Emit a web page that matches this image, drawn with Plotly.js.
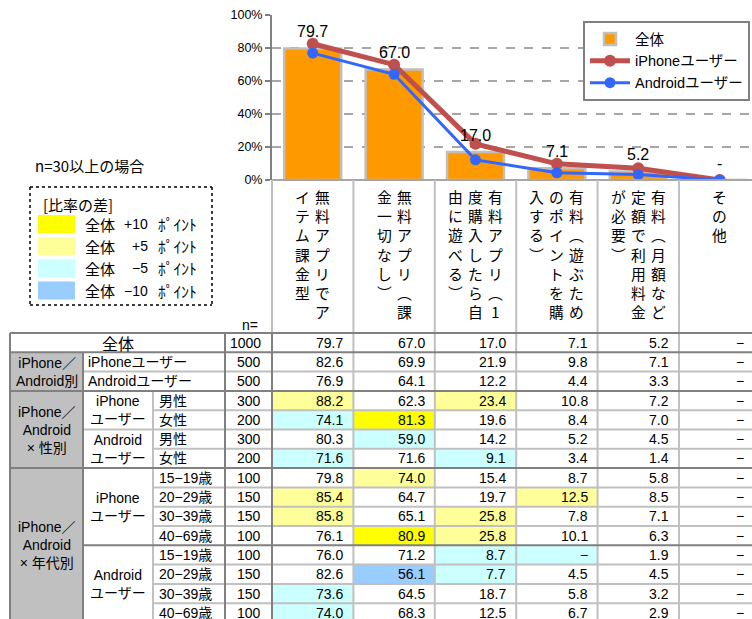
<!DOCTYPE html>
<html><head><meta charset="utf-8">
<script src="https://cdn.plot.ly/plotly-3.0.1.min.js"></script>
<style>html,body{margin:0;padding:0;background:#fff}#chart{width:752px;height:619px}</style>
</head><body><div id="chart"></div>
<script>
// ---------- DATA ----------
const categories = ['無料アプリでアイテム課金型','無料アプリ（課金一切なし）','有料アプリ（1度購入したら自由に遊べる）','有料（遊ぶためのポイントを購入する）','有料（月額など定額で利用料金が必要）','その他'];
const headerLines = [
  ['無料アプリでア','イテム課金型'],
  ['無料アプリ︵課','金一切なし︶'],
  ['有料アプリ︵1','度購入したら自','由に遊べる︶'],
  ['有料︵遊ぶため','のポイントを購','入する︶'],
  ['有料︵月額など','定額で利用料金','が必要︶'],
  ['その他']
];
const seriesNames = ['全体','iPhoneユーザー','Androidユーザー'];
const totalValues   = [79.7, 67.0, 17.0, 7.1, 5.2, 0];
const iphoneValues  = [82.6, 69.9, 21.9, 9.8, 7.1, 0];
const androidValues = [76.9, 64.1, 12.2, 4.4, 3.3, 0];
const totalLabels   = ['79.7','67.0','17.0','7.1','5.2','-'];

const rowLabels = ['全体','iPhoneユーザー','Androidユーザー','男性','女性','男性','女性','15−19歳','20−29歳','30−39歳','40−69歳','15−19歳','20−29歳','30−39歳','40−69歳'];
const rowN = [1000,500,500,300,200,300,200,100,150,150,100,100,150,150,100];
const tableValues = [
  [79.7, 67.0, 17.0, 7.1, 5.2, null],
  [82.6, 69.9, 21.9, 9.8, 7.1, null],
  [76.9, 64.1, 12.2, 4.4, 3.3, null],
  [88.2, 62.3, 23.4, 10.8, 7.2, null],
  [74.1, 81.3, 19.6, 8.4, 7.0, null],
  [80.3, 59.0, 14.2, 5.2, 4.5, null],
  [71.6, 71.6, 9.1, 3.4, 1.4, null],
  [79.8, 74.0, 15.4, 8.7, 5.8, null],
  [85.4, 64.7, 19.7, 12.5, 8.5, null],
  [85.8, 65.1, 25.8, 7.8, 7.1, null],
  [76.1, 80.9, 25.8, 10.1, 6.3, null],
  [76.0, 71.2, 8.7, null, 1.9, null],
  [82.6, 56.1, 7.7, 4.5, 4.5, null],
  [73.6, 64.5, 18.7, 5.8, 3.2, null],
  [74.0, 68.3, 12.5, 6.7, 2.9, null]
];
const groupLabels = ['iPhone／<br>Android別','iPhone／<br>Android<br>× 性別','iPhone／<br>Android<br>× 年代別'];
const groupSpans  = [[1,2],[3,6],[7,14]];
const subLabels   = ['iPhone<br>ユーザー','Android<br>ユーザー','iPhone<br>ユーザー','Android<br>ユーザー'];
const subSpans    = [[3,4],[5,6],[7,10],[11,14]];
const diffLevels  = ['+10','+5','−5','−10'];
const diffColors  = ['#FFFF00','#FFFF99','#CCFFFF','#99CCFF'];
const noteText    = 'n=30以上の場合';
const diffTitle   = '[比率の差]';

// ---------- LAYOUT CONSTANTS ----------
const W = 752, H = 619;
const PLOT_L = 272, COL_W = 81.4, PLOT_TOP = 15, PLOT_BOT = 180;
const TBL_TOP = 333, ROW_H = 19.3, TBL_RIGHT = 762;
const E0 = 10, E1 = 83, E2 = 153, E3 = 225, E4 = PLOT_L;
const DARK = '#808080', LIGHT = '#C0C0C0';
const JP = '"Noto Sans CJK JP", sans-serif';
const NUM = '"Liberation Sans", "Noto Sans CJK JP", sans-serif';

const colEdge = i => PLOT_L + i * COL_W;
const rowEdge = i => TBL_TOP + i * ROW_H;
const rowMid = i => TBL_TOP + (i + 0.5) * ROW_H;

const shapes = [];
const annotations = [];
function rect(x0, y0, x1, y1, fill) {
  shapes.push({type:'rect', xref:'x2', yref:'y2', x0, y0, x1, y1, fillcolor:fill, line:{width:0}, layer:'above'});
}
function line(x0, y0, x1, y1, color, width, dash) {
  shapes.push({type:'line', xref:'x2', yref:'y2', x0, y0, x1, y1, line:{color, width: width || 2, dash: dash || 'solid'}, layer:'above'});
}
function text(x, y, t, opts) {
  annotations.push(Object.assign({xref:'x2', yref:'y2', x, y, text:t, showarrow:false,
    xanchor:'center', yanchor:'middle', font:{family:NUM, size:14, color:'#000'}}, opts || {}));
}

// ---------- TABLE FILLS ----------
groupSpans.forEach(([a, b]) => rect(E0, rowEdge(a), E1, rowEdge(b + 1), LIGHT));
for (let r = 1; r < tableValues.length; r++) {
  for (let c = 0; c < tableValues[r].length; c++) {
    const v = tableValues[r][c] ?? 0, t = tableValues[0][c] ?? 0;
    const d = v - t;
    let col = null;
    if (d >= 10) col = diffColors[0];
    else if (d >= 5) col = diffColors[1];
    else if (d <= -10) col = diffColors[3];
    else if (d <= -5) col = diffColors[2];
    if (col) rect(colEdge(c), rowEdge(r), colEdge(c + 1), rowEdge(r + 1), col);
  }
}

// ---------- TABLE LINES ----------
const nRows = tableValues.length;
const bottom = rowEdge(nRows);
line(PLOT_L, PLOT_BOT, TBL_RIGHT, PLOT_BOT, '#A6A6A6', 2);
for (let c = 0; c <= 6; c++) line(colEdge(c), PLOT_BOT, colEdge(c), TBL_TOP, LIGHT, 2);
const hStart = {2:E1, 4:E2, 5:E1, 6:E2, 8:E2, 9:E2, 10:E2, 11:E1, 12:E2, 13:E2, 14:E2};
const darkRows = {1:true, 3:true, 7:true, 11:true};
for (let i = 1; i < nRows; i++) {
  const x0 = hStart[i] !== undefined ? hStart[i] : E0;
  if (!darkRows[i]) line(x0, rowEdge(i), TBL_RIGHT, rowEdge(i), LIGHT, 2);
}
for (let c = 1; c <= 6; c++) line(colEdge(c), TBL_TOP, colEdge(c), bottom, LIGHT, 2);
line(E2, rowEdge(3), E2, bottom, LIGHT, 2);
for (let i = 1; i < nRows; i++) {
  if (darkRows[i]) {
    const x0 = hStart[i] !== undefined ? hStart[i] : E0;
    line(x0, rowEdge(i), TBL_RIGHT, rowEdge(i), DARK, 2);
  }
}
line(E0, TBL_TOP, TBL_RIGHT, TBL_TOP, DARK, 2);
line(E0, TBL_TOP, E0, bottom, DARK, 2);
line(E1, rowEdge(1), E1, bottom, DARK, 2);
line(E3, TBL_TOP, E3, bottom, DARK, 2);
line(E4, TBL_TOP, E4, bottom, DARK, 2);

// ---------- HEADER TEXT ----------
headerLines.forEach((lines, c) => {
  const cx = (colEdge(c) + colEdge(c + 1)) / 2;
  lines.forEach((s, k) => {
    const x = cx + ((lines.length - 1) / 2 - k) * 20;
    text(x, 183.5, Array.from(s).join('<br>'), {yanchor:'top', font:{family:JP, size:14.8, color:'#000'}});
  });
});
text((E3 + E4) / 2 + 1, 325, 'n=', {font:{family:NUM, size:14, color:'#000'}});

// ---------- TABLE TEXT ----------
text((E0 + E3) / 2, rowMid(0), rowLabels[0], {font:{family:JP, size:16, color:'#000'}});
for (let r = 1; r <= 2; r++) text(E1 + 3, rowMid(r), rowLabels[r], {xanchor:'left'});
for (let r = 3; r < nRows; r++) text(E2 + 4, rowMid(r), rowLabels[r], {xanchor:'left'});
groupLabels.forEach((g, i) => {
  const [a, b] = groupSpans[i];
  text((E0 + E1) / 2, (rowEdge(a) + rowEdge(b + 1)) / 2, g);
});
subLabels.forEach((g, i) => {
  const [a, b] = subSpans[i];
  text((E1 + E2) / 2, (rowEdge(a) + rowEdge(b + 1)) / 2, g);
});
for (let r = 0; r < nRows; r++) {
  text(E4 - 9, rowMid(r), String(rowN[r]), {xanchor:'right'});
  tableValues[r].forEach((v, c) => {
    const pad = c === 5 ? 14 : 8;
    text(colEdge(c + 1) - pad, rowMid(r), v === null ? '−' : v.toFixed(1), {xanchor:'right'});
  });
}

// ---------- LEFT NOTE & DIFF LEGEND ----------
text(33, 165, noteText, {xanchor:'left', font:{family:JP, size:15, color:'#000'}});
line(30, 187, 212, 187, '#000', 1.5, 'dot');
line(30, 305, 212, 305, '#000', 1.5, 'dot');
line(30, 187, 30, 305, '#000', 1.5, 'dot');
line(212, 187, 212, 305, '#000', 1.5, 'dot');
text(41, 204, diffTitle, {xanchor:'left', font:{family:JP, size:15, color:'#000'}});
diffLevels.forEach((lv, i) => {
  const yc = 224 + i * 22.2;
  rect(38, yc - 9, 75, yc + 9, diffColors[i]);
  text(83, yc, '全体', {xanchor:'left', font:{family:JP, size:15, color:'#000'}});
  text(150, yc, lv, {xanchor:'right', font:{family:NUM, size:14, color:'#000'}});
  text(156, yc, 'ﾎﾟｲﾝﾄ', {xanchor:'left', font:{family:JP, size:15.5, color:'#000'}});
});

// ---------- BAR LABELS ----------
totalValues.forEach((v, i) => {
  annotations.push({xref:'x', yref:'y', x:i, y:v, text:totalLabels[i], showarrow:false,
    xanchor:'center', yanchor:'middle', yshift:16.5, font:{family:NUM, size:16, color:'#000'}});
});

// ---------- TRACES ----------
const xs = categories.map((_, i) => i);
const traces = [
  {type:'bar', name:seriesNames[0], x:xs, y:totalValues, width:0.7,
   marker:{color:'#FF9900', line:{color:'#BFBFBF', width:2.5}}, hoverinfo:'skip'},
  {type:'scatter', mode:'lines+markers', name:seriesNames[1], x:xs, y:iphoneValues,
   line:{color:'#C0504D', width:5}, marker:{color:'#C0504D', size:12}, hoverinfo:'skip'},
  {type:'scatter', mode:'lines+markers', name:seriesNames[2], x:xs, y:androidValues,
   line:{color:'#3366FF', width:3}, marker:{color:'#3366FF', size:11}, hoverinfo:'skip'},
  {type:'scatter', mode:'markers', x:[0], y:[0], xaxis:'x2', yaxis:'y2', showlegend:false,
   marker:{opacity:0}, hoverinfo:'skip'}
];

const layout = {
  width:W, height:H, margin:{l:0, r:0, t:0, b:0},
  paper_bgcolor:'#fff', plot_bgcolor:'rgba(0,0,0,0)',
  showlegend:true,
  legend:{x:583/W, y:1 - 21/H, xanchor:'left', yanchor:'top', bgcolor:'#fff',
    bordercolor:'#808080', borderwidth:2, font:{family:NUM, size:14.5, color:'#000'},
    tracegroupgap:0, itemwidth:40},
  xaxis:{domain:[PLOT_L / W, 1], range:[-0.5, -0.5 + (W - PLOT_L) / COL_W], showticklabels:false,
    showgrid:false, zeroline:false, showline:false, ticks:'', fixedrange:true},
  yaxis:{domain:[1 - PLOT_BOT / H, 1 - PLOT_TOP / H], range:[0, 100], dtick:20, ticksuffix:'%',
    showgrid:true, gridcolor:'#A6A6A6', gridwidth:1.5, griddash:'dash', zeroline:false,
    showline:true, linecolor:'#808080', linewidth:2, ticks:'outside', ticklen:5, tickwidth:2,
    tickcolor:'#808080', tickfont:{family:NUM, size:12.5, color:'#000'}, fixedrange:true},
  xaxis2:{domain:[0, 1], range:[0, W], visible:false, fixedrange:true, anchor:'y2'},
  yaxis2:{domain:[0, 1], range:[H, 0], visible:false, fixedrange:true, anchor:'x2'},
  shapes, annotations
};
Plotly.newPlot('chart', traces, layout, {displayModeBar:false, staticPlot:true});
</script></body></html>
